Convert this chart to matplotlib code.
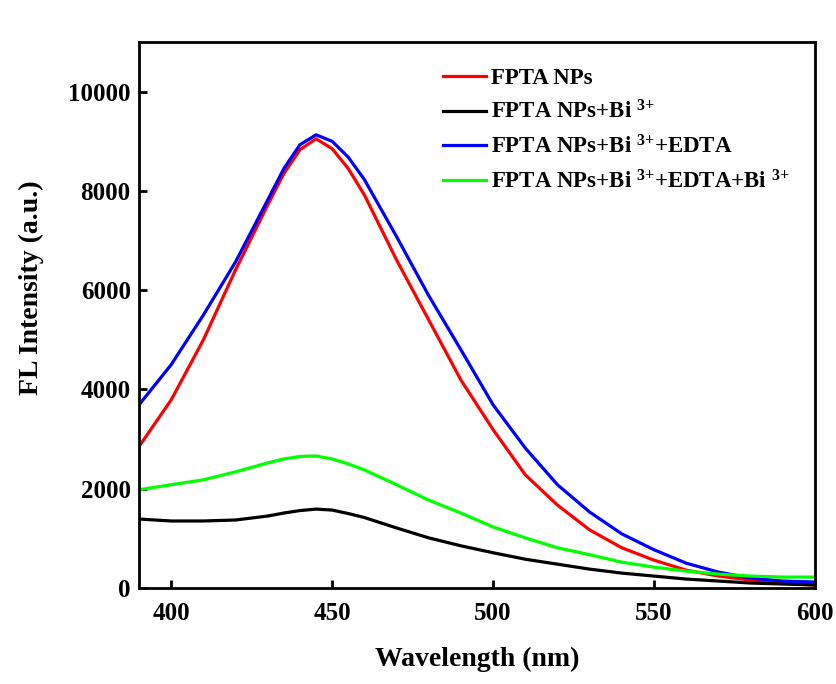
import matplotlib.pyplot as plt

# Wavelength (nm) and FL intensity
wavelength = [390, 400, 410, 420, 430, 435, 440, 445, 450, 455, 460, 470, 480, 490,
              500, 510, 520, 530, 540, 550, 560, 570, 580, 590, 600]

fpta = [2850, 3790, 5000, 6410, 7720, 8350, 8830, 9050, 8850, 8450, 7920, 6610, 5400, 4190,
        3190, 2280, 1670, 1170, 810, 560, 360, 240, 160, 100, 60]
fpta_bi = [1390, 1350, 1350, 1370, 1450, 1510, 1560, 1590, 1570, 1500, 1420, 1210, 1010, 850,
           710, 580, 480, 380, 300, 240, 180, 140, 100, 80, 60]
fpta_bi_edta = [3690, 4500, 5500, 6570, 7820, 8450, 8930, 9130, 9000, 8680, 8230, 7080, 5890, 4800,
                3690, 2820, 2080, 1530, 1090, 770, 500, 320, 200, 140, 120]
fpta_bi_edta_bi = [1980, 2080, 2180, 2340, 2520, 2600, 2650, 2660, 2600, 2500, 2380, 2080, 1770, 1510,
                   1230, 1010, 810, 670, 520, 420, 340, 280, 240, 220, 220]

labels = ["FPTA NPs",
          r"FPTA NPs+Bi $^{3{+}}$",
          r"FPTA NPs+Bi $^{3{+}}$+EDTA",
          r"FPTA NPs+Bi $^{3{+}}$+EDTA+Bi $^{3{+}}$"]
colors = ["#ff0000", "#000000", "#0000ff", "#00ff00"]

plt.rcParams['font.family'] = 'Liberation Serif'
plt.rcParams['font.weight'] = 'bold'
plt.rcParams['mathtext.fontset'] = 'custom'
plt.rcParams['mathtext.rm'] = 'Liberation Serif:bold'
plt.rcParams['mathtext.default'] = 'rm'

fig = plt.figure(figsize=(8.36, 6.84), dpi=100)
ax = fig.add_axes([139 / 836, 1 - 588 / 684, (815 - 139) / 836, (588 - 42) / 684])

series = [fpta, fpta_bi, fpta_bi_edta, fpta_bi_edta_bi]
for vals, lab, col in zip(series, labels, colors):
    ax.plot(wavelength, vals, color=col, lw=2.3, label=lab)

ax.set_xlim(390, 600)
ax.set_ylim(0, 11000)
ax.set_xticks([400, 450, 500, 550, 600])
ax.set_yticks([0, 2000, 4000, 6000, 8000, 10000])
ax.tick_params(direction='in', length=6, width=2, labelsize=18, pad=6)
ax.tick_params(axis='x', pad=10)
for sp in ax.spines.values():
    sp.set_linewidth(2)

ax.set_xlabel("Wavelength (nm)", fontsize=20, fontweight='bold', labelpad=16)
ax.set_ylabel("FL Intensity (a.u.)", fontsize=20, fontweight='bold')
ax.yaxis.set_label_coords(-0.14, 0.55)

ax.legend(loc='upper left', bbox_to_anchor=(0.419, 0.99), frameon=False,
          fontsize=16.5, handlelength=1.9, handletextpad=0.2, labelspacing=0.5)

plt.savefig("out.png", dpi=100)
